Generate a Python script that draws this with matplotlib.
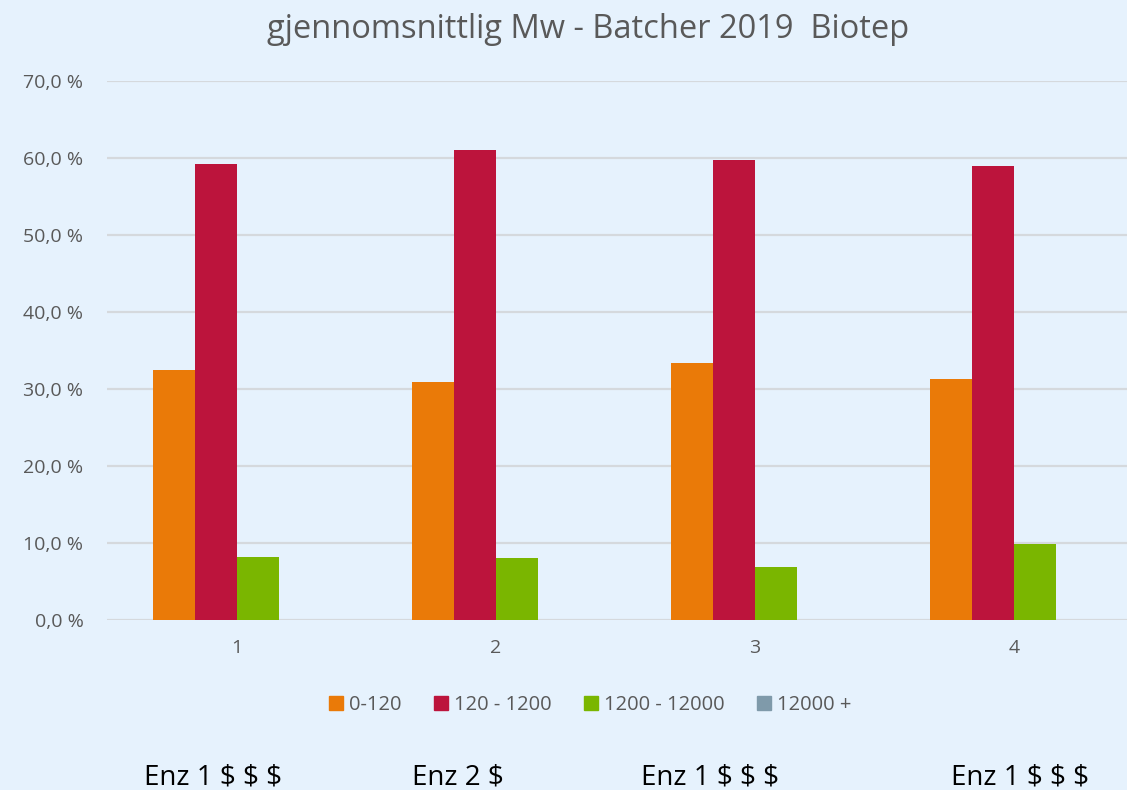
import matplotlib.pyplot as plt
import numpy as np

plt.rcParams['font.family'] = ['Open Sans', 'DejaVu Sans']

# data
grupper = ["1", "2", "3", "4"]
serier = ["0-120", "120 - 1200", "1200 - 12000", "12000 +"]
v_0_120 = [32.5, 30.9, 33.4, 31.3]
v_120_1200 = [59.2, 61.0, 59.7, 58.9]
v_1200_12000 = [8.2, 8.1, 6.9, 9.9]
v_12000_pluss = [0.0, 0.0, 0.0, 0.0]
enzym = ["Enz 1 $ $ $", "Enz 2 $", "Enz 1 $ $ $", "Enz 1 $ $ $"]

farger = ["#EA7A08", "#BC143C", "#7AB600", "#7F9AAA"]
bg = "#E6F2FD"
tekst = "#595959"

fig = plt.figure(figsize=(11.27, 7.9), dpi=100, facecolor=bg)
ax = fig.add_axes([107/1127, 170/790, 1020/1127, 539/790])
ax.set_facecolor(bg)

x = np.arange(len(grupper))
w = 0.162
verdier = [v_0_120, v_120_1200, v_1200_12000, v_12000_pluss]
for i, (navn, v) in enumerate(zip(serier, verdier)):
    ax.bar(x + (i - 1.5) * w, v, w, color=farger[i], label=navn, zorder=3)

ax.set_ylim(0, 70)
ax.set_xlim(-0.5, 3.436)
ax.set_yticks(range(0, 71, 10))
ax.set_yticklabels([f"{t},0 %" for t in range(0, 71, 10)])
ax.set_xticks(x)
ax.set_xticklabels(grupper)
ax.grid(axis='y', color='#D5D9DD', lw=1.6, zorder=0)
for s in ax.spines.values():
    s.set_visible(False)
ax.tick_params(length=0, colors=tekst, labelsize=14)
ax.tick_params(axis='y', pad=17)
ax.tick_params(axis='x', pad=14)

fig.text(588/1127, 1 - 29/790, "gjennomsnittlig Mw - Batcher 2019  Biotep",
         ha='center', va='center', fontsize=23.5, color=tekst)

handles = [plt.Rectangle((0, 0), 1, 1, color=c) for c in farger]
fig.legend(handles, serier, loc='center', bbox_to_anchor=(590/1127, 1 - 705/790),
           ncol=4, frameon=False, fontsize=14.5, labelcolor=tekst,
           handlelength=0.7, handleheight=0.7, handletextpad=0.3, columnspacing=1.6)

for xc, lab in zip([213, 458, 710, 1020], enzym):
    fig.text(xc/1127, 1 - 777/790, lab, ha='center', va='center', fontsize=20, color='black')

fig.savefig("out.png", dpi=100, facecolor=bg)
